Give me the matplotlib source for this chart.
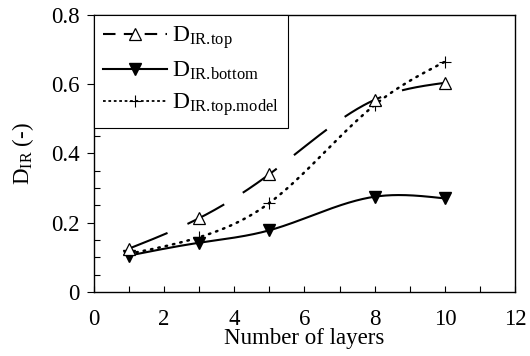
import numpy as np
import matplotlib
matplotlib.use('Agg')
import matplotlib.pyplot as plt
from matplotlib.lines import Line2D
from matplotlib.ticker import MultipleLocator

plt.rcParams['font.family'] = ['Liberation Serif', 'DejaVu Serif']
plt.rcParams['mathtext.fontset'] = 'custom'
plt.rcParams['mathtext.rm'] = 'Liberation Serif'
plt.rcParams['mathtext.it'] = 'Liberation Serif:italic'

# data
layers = [1, 3, 5, 8, 10]
dTop = [0.125, 0.213, 0.340, 0.555, 0.604]
dBottom = [0.105, 0.142, 0.178, 0.275, 0.270]
dTopModel = [0.110, 0.158, 0.257, 0.540, 0.665]

xTicks = [0, 2, 4, 6, 8, 10, 12]
yTicks = [0, 0.2, 0.4, 0.6, 0.8]


def naturalSpline(x, y, xs):
    # natural cubic spline, used only to draw the smoothed curves
    x = np.asarray(x, float)
    y = np.asarray(y, float)
    n = len(x)
    h = np.diff(x)
    A = np.zeros((n, n))
    b = np.zeros(n)
    A[0, 0] = 1
    A[-1, -1] = 1
    for i in range(1, n - 1):
        A[i, i - 1] = h[i - 1]
        A[i, i] = 2 * (h[i - 1] + h[i])
        A[i, i + 1] = h[i]
        b[i] = 6 * ((y[i + 1] - y[i]) / h[i] - (y[i] - y[i - 1]) / h[i - 1])
    M = np.linalg.solve(A, b)
    out = np.empty_like(xs)
    for k, xv in enumerate(xs):
        i = min(max(np.searchsorted(x, xv) - 1, 0), n - 2)
        t0 = x[i + 1] - xv
        t1 = xv - x[i]
        out[k] = (M[i] * t0 ** 3 + M[i + 1] * t1 ** 3) / (6 * h[i]) \
            + (y[i] / h[i] - M[i] * h[i] / 6) * t0 \
            + (y[i + 1] / h[i] - M[i + 1] * h[i] / 6) * t1
    return out


fig = plt.figure(figsize=(5.3, 3.56), dpi=100)
ax = fig.add_axes([0.177, 0.180, 0.795, 0.778])

xs = np.linspace(layers[0], layers[-1], 300)

ax.plot(xs, naturalSpline(layers, dTop, xs), color='black', lw=1.5,
        linestyle=(0, (20, 10.5)))
ax.plot(xs, naturalSpline(layers, dBottom, xs), color='black', lw=1.5)
ax.plot(xs, naturalSpline(layers, dTopModel, xs), color='black', lw=1.8,
        linestyle=(0, (0.6, 2.4)), dash_capstyle='round')

ax.plot(layers, dTopModel, linestyle='none', marker='+', markersize=9,
        markeredgewidth=0.8, color='black')
ax.plot(layers, dBottom, linestyle='none', marker='v', markersize=9,
        color='black')
ax.plot(layers, dTop, linestyle='none', marker='^', markersize=9,
        markerfacecolor='white', markeredgecolor='black', markeredgewidth=0.9)

ax.set_xlim(0, 12)
ax.set_ylim(0, 0.8)
ax.set_xticks(xTicks)
ax.set_yticks(yTicks)
ax.set_yticklabels(['0', '0.2', '0.4', '0.6', '0.8'])
ax.xaxis.set_minor_locator(MultipleLocator(1))
ax.yaxis.set_minor_locator(MultipleLocator(0.05))
ax.tick_params(axis='x', which='both', direction='in', length=4, width=0.8,
               labelsize=16.5, pad=12)
ax.tick_params(axis='y', which='major', direction='out', length=5, width=0.8,
               labelsize=16.5, pad=5)
ax.tick_params(axis='y', which='minor', direction='in', length=4, width=0.8)
for s in ax.spines.values():
    s.set_linewidth(1.0)

ax.set_xlabel('Number of layers', fontsize=16.5, labelpad=-1)
ax.set_ylabel(r'$\mathregular{D_{IR}}$ (-)', fontsize=16.5, labelpad=11)

handles = [
    Line2D([], [], color='black', lw=1.5, linestyle=(0, (6, 4)), marker='^',
           markersize=9, markerfacecolor='white', markeredgewidth=0.9),
    Line2D([], [], color='black', lw=1.5, marker='v', markersize=9),
    Line2D([], [], color='black', lw=1.3, linestyle=(0, (1.5, 1.5)),
           marker='+', markersize=9, markeredgewidth=0.8),
]
labels = [r'$\mathregular{D_{IR.\!top}}$', r'$\mathregular{D_{IR.\!bottom}}$',
          r'$\mathregular{D_{IR.\!top.\!model}}$']
leg = ax.legend(handles, labels, loc='upper left', borderaxespad=0,
                fontsize=17, handlelength=2.7, handletextpad=0.2,
                labelspacing=0.38, fancybox=False, framealpha=1,
                edgecolor='black', borderpad=0.4)
leg.get_frame().set_linewidth(0.8)

fig.savefig('out.png', dpi=100)
